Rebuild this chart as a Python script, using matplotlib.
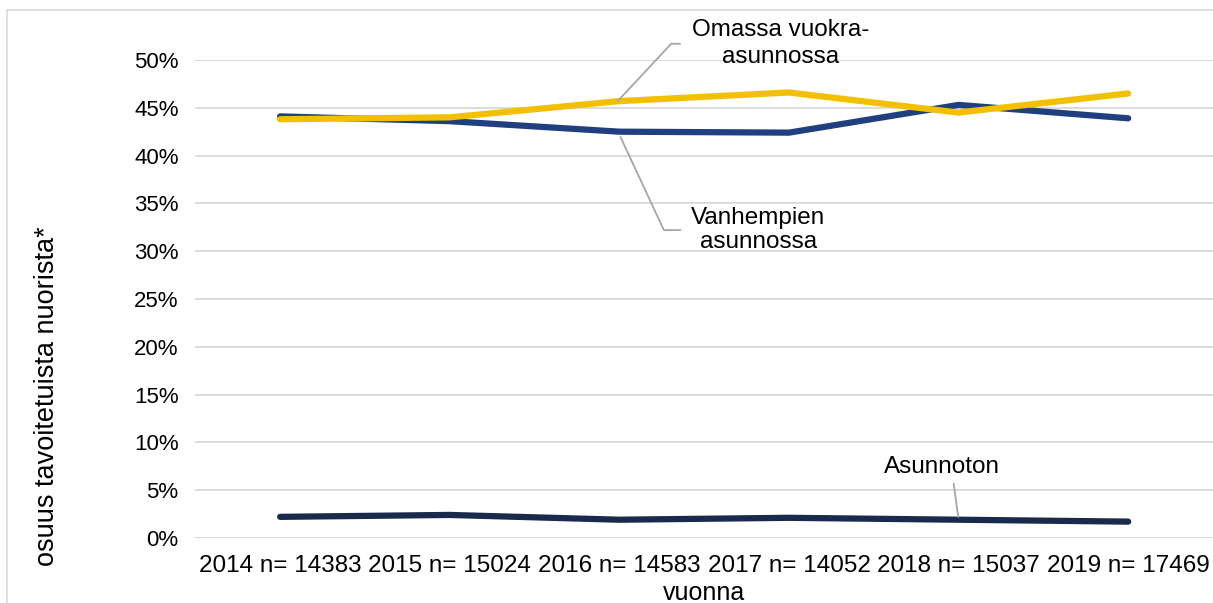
import matplotlib.pyplot as plt
from matplotlib.patches import Rectangle
from matplotlib.ticker import PercentFormatter

plt.rcParams['font.family'] = ['Liberation Sans', 'DejaVu Sans']

categories = ['2014 n= 14383', '2015 n= 15024', '2016 n= 14583',
              '2017 n= 14052', '2018 n= 15037', '2019 n= 17469']
vanhempien = [44.1, 43.6, 42.5, 42.4, 45.3, 43.9]
omassa = [43.8, 44.0, 45.7, 46.6, 44.5, 46.5]
asunnoton = [2.2, 2.4, 1.9, 2.1, 1.9, 1.7]

fig = plt.figure(figsize=(12.13, 6.03), dpi=100)
ax = fig.add_axes([0.161, 0.108, 0.839, 0.7925])

# outer chart border
fig.patches.append(Rectangle((7 / 1213, -0.05), 1.2, (603 - 10) / 603 + 0.05,
                             transform=fig.transFigure, fill=False,
                             edgecolor='#d9d9d9', linewidth=1.2, zorder=0))

x = range(len(categories))
ax.plot(x, vanhempien, color='#203f7e', linewidth=4.5, solid_capstyle='round')
ax.plot(x, omassa, color='#f2c000', linewidth=4.5, solid_capstyle='round')
ax.plot(x, asunnoton, color='#1a2a4c', linewidth=4.5, solid_capstyle='round')

ax.set_xlim(-0.5, 5.5)
ax.set_ylim(0, 50)
ax.set_yticks(range(0, 51, 5))
ax.yaxis.set_major_formatter(PercentFormatter(decimals=0))
ax.set_xticks(list(x))
ax.set_xticklabels(categories)
ax.grid(axis='y', color='#d9d9d9', linewidth=1.3)
ax.set_axisbelow(True)
for s in ax.spines.values():
    s.set_visible(False)
ax.tick_params(axis='y', length=0, labelsize=16, pad=12)
ax.tick_params(axis='x', length=0, labelsize=17.5, pad=12)
ax.set_xlabel('vuonna', fontsize=18, labelpad=3)
ax.set_ylabel('osuus tavoitetuista nuorista*', fontsize=19.5)
ax.yaxis.set_label_coords(-0.133, 0.297)

# leader-line labels
lc = '#a6a6a6'
ax.annotate('Omassa vuokra-\nasunnossa', xy=(1.98, omassa[2] - 0.2), xytext=(2.95, 51.7),
            fontsize=17.5, ha='center', va='center', annotation_clip=False,
            linespacing=1.3,
            arrowprops=dict(arrowstyle='-', color=lc, lw=1.3, relpos=(-0.05, 0.5),
                            connectionstyle='angle,angleA=0,angleB=47,rad=0'))
ax.annotate('Vanhempien\nasunnossa', xy=(2.0, vanhempien[2] - 0.3), xytext=(2.82, 32.2),
            fontsize=17.5, ha='center', va='center', annotation_clip=False,
            linespacing=1.15,
            arrowprops=dict(arrowstyle='-', color=lc, lw=1.3, relpos=(-0.06, 0.5),
                            connectionstyle='angle,angleA=0,angleB=-65,rad=0'))
ax.annotate('Asunnoton', xy=(4.0, asunnoton[4]), xytext=(3.9, 7.4),
            fontsize=17.5, ha='center', va='center', annotation_clip=False,
            arrowprops=dict(arrowstyle='-', color=lc, lw=1.3, relpos=(0.6, -0.1)))

fig.savefig('out.png', dpi=100)
